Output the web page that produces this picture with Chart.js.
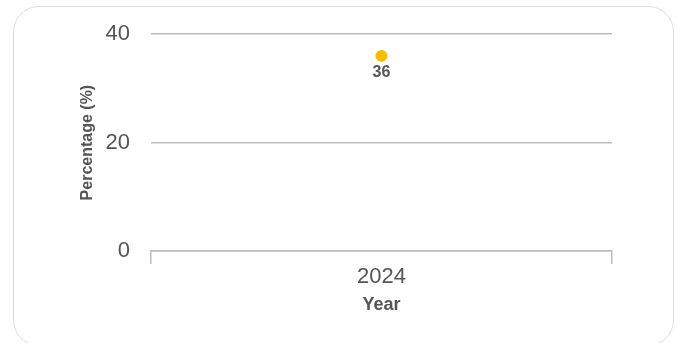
<!DOCTYPE html>
<html>
<head>
<meta charset="utf-8">
<script src="https://cdn.jsdelivr.net/npm/chart.js@4"></script>
<style>
  html, body { margin: 0; padding: 0; background: #fff; }
  body { width: 677px; height: 343px; position: relative; overflow: hidden; }
  .card {
    position: absolute; left: 13px; top: 6px; width: 661px; height: 340px;
    border: 1.5px solid #dcdcdc; border-radius: 26px; box-sizing: border-box;
  }
  #chart { position: absolute; left: 0; top: 0; }
</style>
</head>
<body>
<div class="card"></div>
<canvas id="chart" width="677" height="343"></canvas>
<script>
// share by year
const years = ['2024'];
const percentValues = [36];
const yTicks = [0, 20, 40];

const GRID = '#bdbdbd';
const TEXT = '#555';
const FONT = '"Liberation Sans", Arial, sans-serif';

// small value label drawn under each point
const valueLabels = {
  id: 'valueLabels',
  afterDatasetsDraw(chart){
    const ctx = chart.ctx;
    chart.data.datasets.forEach((ds, di)=>{
      chart.getDatasetMeta(di).data.forEach((pt, i)=>{
        ctx.save();
        ctx.font = 'bold 16px ' + FONT;
        ctx.fillStyle = TEXT;
        ctx.textAlign = 'center';
        ctx.textBaseline = 'middle';
        ctx.fillText(String(ds.data[i]), pt.x, pt.y + 17);
        ctx.restore();
      });
    });
  }
};

new Chart(document.getElementById('chart'), {
  type: 'line',
  data: {
    labels: years,
    datasets: [{
      data: percentValues,
      showLine: false,
      pointRadius: 6,
      pointHoverRadius: 6,
      pointBackgroundColor: '#f5bc00',
      pointBorderWidth: 0
    }]
  },
  options: {
    responsive: false,
    animation: false,
    layout: { padding: { left: 74, right: 65, top: 34, bottom: 27 } },
    plugins: { legend: { display: false }, tooltip: { enabled: false } },
    scales: {
      x: {
        offset: true,
        grid: { offset: true, drawOnChartArea: false, drawTicks: true, tickLength: 13, color: GRID, lineWidth: 1.5 },
        border: { color: GRID, width: 1.5 },
        ticks: { color: TEXT, font: { family: FONT, size: 22 }, padding: 0 },
        title: { display: true, text: 'Year', color: TEXT, font: { family: FONT, size: 18, weight: 'bold' }, padding: { top: 4, bottom: 0 } }
      },
      y: {
        min: 0, max: 40,
        afterBuildTicks(scale){ scale.ticks = yTicks.map(v=>({ value: v })); },
        afterFit(scale){ scale.width = 77; },
        grid: { color: GRID, lineWidth: 1.5, drawTicks: false },
        border: { display: false },
        ticks: { color: TEXT, font: { family: FONT, size: 22 }, padding: 21 },
        title: { display: true, text: 'Percentage (%)', color: TEXT, font: { family: FONT, size: 16, weight: 'bold' }, padding: { top: 4, bottom: 4 } }
      }
    }
  },
  plugins: [valueLabels]
});
</script>
</body>
</html>
